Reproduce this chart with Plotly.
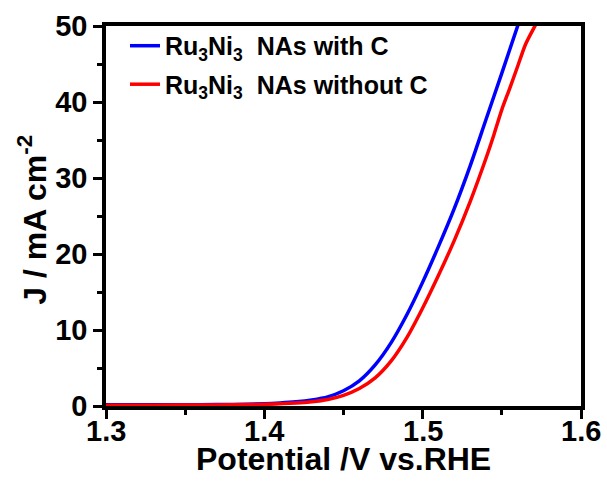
import plotly.graph_objects as go

# Potential (V vs. RHE) and current density (mA cm^-2)
v_with_c = [1.300, 1.330, 1.360, 1.380, 1.400, 1.410, 1.420, 1.430, 1.440, 1.450, 1.460,
            1.470, 1.480, 1.490, 1.500, 1.510, 1.520, 1.530, 1.540, 1.550, 1.560, 1.562]
j_with_c = [0.15, 0.16, 0.18, 0.21, 0.30, 0.40, 0.55, 0.80, 1.20, 2.00, 3.30,
            5.40, 8.30, 12.0, 16.3, 21.0, 26.0, 31.6, 37.7, 43.8, 50.0, 51.2]

v_without_c = [1.300, 1.330, 1.360, 1.380, 1.400, 1.420, 1.430, 1.440, 1.450, 1.460,
               1.470, 1.480, 1.490, 1.500, 1.510, 1.520, 1.530, 1.540, 1.545, 1.550,
               1.555, 1.560, 1.565, 1.5714, 1.573]
j_without_c = [0.10, 0.11, 0.13, 0.16, 0.22, 0.38, 0.55, 0.85, 1.40, 2.30,
               3.70, 5.90, 9.00, 12.9, 17.2, 21.8, 26.9, 32.6, 35.7, 39.0,
               41.8, 44.7, 47.6, 50.2, 50.9]

series_names = ["Ru<sub>3</sub>Ni<sub>3</sub>  NAs with C",
                "Ru<sub>3</sub>Ni<sub>3</sub>  NAs without C"]
series_colors = ["#0000FF", "#FF0000"]

x_ticks = [1.3, 1.4, 1.5, 1.6]
x_tick_labels = ["1.3", "1.4", "1.5", "1.6"]
y_ticks = [0, 10, 20, 30, 40, 50]

FONT = "Liberation Sans, Arial, sans-serif"

fig = go.Figure()
for i, (vx, jy) in enumerate([(v_with_c, j_with_c), (v_without_c, j_without_c)]):
    fig.add_trace(go.Scatter(
        x=vx, y=jy, mode="lines", name=series_names[i],
        line=dict(color=series_colors[i], width=3.5, shape="spline", smoothing=0.8),
        legendgroup=f"g{i}",
    ))

axis_common = dict(
    showline=True, linecolor="black", linewidth=3.5, mirror=True,
    ticks="outside", ticklen=9, tickwidth=3, tickcolor="black",
    showgrid=False, zeroline=False, automargin=False,
    tickfont=dict(family=FONT, size=29, color="black", weight="bold"),
)

fig.update_xaxes(
    range=[1.3, 1.6], tickvals=x_ticks, showticklabels=False,
    minor=dict(ticks="outside", ticklen=5, tickwidth=3, tickcolor="black", dtick=0.05, showgrid=False),
    **axis_common,
)
fig.update_yaxes(
    range=[0, 50], tickvals=y_ticks,
    minor=dict(ticks="outside", ticklen=5, tickwidth=3, tickcolor="black", dtick=5, showgrid=False),
    **axis_common,
)

# x tick labels as text placed at the tick values
for tv, tl in zip(x_ticks, x_tick_labels):
    fig.add_annotation(
        text=tl, xref="x", yref="paper", x=tv, y=-0.066,
        xanchor="center", yanchor="middle", showarrow=False,
        font=dict(family=FONT, size=29, color="black", weight="bold"),
    )

fig.add_annotation(
    text="Potential /V vs.RHE",
    xref="paper", yref="paper", x=0.5, y=-0.140, xanchor="center", yanchor="middle",
    showarrow=False, font=dict(family=FONT, size=32, color="black", weight="bold"),
)
fig.add_annotation(
    text="J / mA cm<sup>-2</sup>", textangle=-90,
    xref="paper", yref="paper", x=-0.156, y=0.49, xanchor="center", yanchor="middle",
    showarrow=False, font=dict(family=FONT, size=32, color="black", weight="bold"),
)

fig.update_layout(
    width=607, height=481,
    margin=dict(l=106, r=26, t=26, b=75),
    paper_bgcolor="white", plot_bgcolor="white",
    showlegend=True,
    legend=dict(x=0.04, y=1.008, xanchor="left", yanchor="top",
                bgcolor="rgba(0,0,0,0)", tracegroupgap=3,
                font=dict(family=FONT, size=25, color="black", weight="bold")),
)

fig.write_html("out.html")
